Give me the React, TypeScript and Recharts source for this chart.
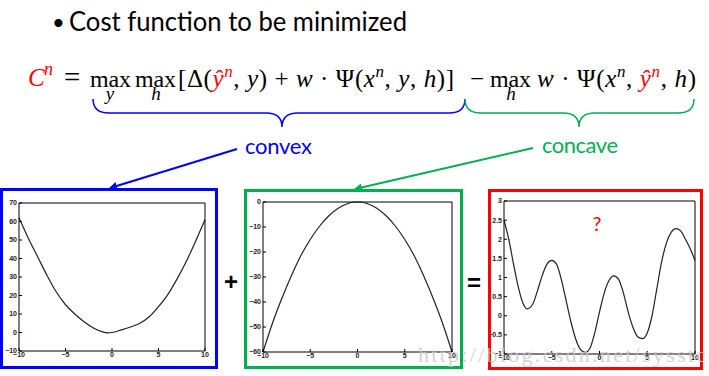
import React from "react";
import { LineChart, Line, XAxis, YAxis } from "recharts";

// x ticks shared by the three small plots
const xTicks = [-10, -5, 0, 5, 10];

// convex part
const convexX = [-10, -9, -8, -7, -6, -5, -4, -3, -2, -1, -0.5, 0, 1, 2, 3, 4, 5, 6, 7, 8, 9, 10];
const convexY = [62, 51, 41, 31, 22, 15, 10, 5.8, 2.4, 0.3, -0.2, 0, 1.4, 3, 5, 8.5, 14, 20.5, 29, 38.5, 49.5, 61];
const convexTicks = [-10, 0, 10, 20, 30, 40, 50, 60, 70];

// concave part
const concaveX = [-10, -9, -8, -7, -6, -5, -4, -3, -2, -1, -0.5, 0, 0.5, 1, 2, 3, 4, 5, 6, 7, 8, 9, 10];
const concaveY = [-60, -48.5, -38.5, -29.5, -21.5, -15, -9.6, -5.4, -2.4, -0.6, -0.1, 0, -0.1, -0.6, -2.4, -5.4, -9.6, -15, -21.5, -29.5, -38.5, -48.5, -60];
const concaveTicks = [-60, -50, -40, -30, -20, -10, 0];

// sum of both
const sumX = [-10, -9.5, -9, -8.5, -8, -7.6, -7, -6.5, -6, -5.5, -5, -4.5, -4, -3.5, -3, -2.5, -2, -1.5, -1, -0.5, 0, 0.5, 1, 1.5, 2, 2.5, 3, 3.5, 4, 4.5, 5, 5.5, 6, 6.5, 7, 7.5, 8, 8.5, 9, 9.5, 10];
const sumY = [2.5, 2.0, 1.35, 0.75, 0.32, 0.18, 0.3, 0.65, 1.05, 1.35, 1.45, 1.35, 0.95, 0.4, -0.15, -0.6, -0.88, -0.96, -0.85, -0.45, 0.1, 0.6, 0.92, 1.04, 0.95, 0.6, 0.1, -0.3, -0.55, -0.6, -0.45, 0, 0.7, 1.4, 1.9, 2.18, 2.28, 2.22, 2.0, 1.75, 1.45];
const sumTicks = [-1, -0.5, 0, 0.5, 1, 1.5, 2, 2.5, 3];

const zip = (xs: number[], ys: number[]) => xs.map((x, i) => ({ x, y: ys[i] }));

const tickStyle = { fontSize: 7, fill: "#222", fontFamily: "Liberation Sans", fontWeight: "bold" as const };
const fmt = (v: number) => String(v).replace("-", "\u2212");

interface PlotProps {
    data: { x: number; y: number }[];
    yTicks: number[];
    left: number;
    top: number;
    width: number;
    height: number;
    margin: { top: number; right: number; bottom: number; left: number };
    yWidth: number;
    xHeight: number;
}

// small matlab-like plot: boxed axes, ticks pointing inwards
const MiniPlot = ({ data, yTicks, left, top, width, height, margin, yWidth, xHeight }: PlotProps) => {
    const yDomain = [yTicks[0], yTicks[yTicks.length - 1]];
    return (
        <div style={{ position: "absolute", left, top, width, height }}>
            <LineChart width={width} height={height} data={data} margin={margin}>
                <XAxis
                    xAxisId="b"
                    dataKey="x"
                    type="number"
                    domain={[-10, 10]}
                    ticks={xTicks}
                    height={xHeight}
                    stroke="#000"
                    tickSize={-3}
                    tickMargin={4}
                    tick={tickStyle}
                    tickFormatter={fmt}
                />
                <XAxis
                    xAxisId="t"
                    dataKey="x"
                    type="number"
                    orientation="top"
                    domain={[-10, 10]}
                    ticks={xTicks}
                    height={1}
                    stroke="#000"
                    tickSize={-3}
                    tick={false}
                />
                <YAxis
                    yAxisId="l"
                    type="number"
                    domain={yDomain}
                    ticks={yTicks}
                    width={yWidth}
                    stroke="#000"
                    tickSize={-3}
                    tickMargin={5}
                    tick={tickStyle}
                    tickFormatter={fmt}
                    interval={0}
                />
                <YAxis
                    yAxisId="r"
                    type="number"
                    orientation="right"
                    domain={yDomain}
                    ticks={yTicks}
                    width={1}
                    stroke="#000"
                    tickSize={-3}
                    tick={false}
                />
                <Line
                    xAxisId="b"
                    yAxisId="l"
                    type="monotone"
                    dataKey="y"
                    stroke="#222"
                    strokeWidth={1.2}
                    dot={false}
                    isAnimationActive={false}
                />
            </LineChart>
        </div>
    );
};

const serif = "Liberation Serif";
const sans = "Lato";

export default function App() {
    return (
        <div style={{ position: "fixed", left: 0, top: 0, width: 709, height: 376, background: "#fff", overflow: "hidden" }}>
            <MiniPlot
                data={zip(convexX, convexY)}
                yTicks={convexTicks}
                left={0}
                top={188}
                width={218}
                height={180}
                margin={{ top: 14, right: 12, bottom: 0, left: 0 }}
                yWidth={19}
                xHeight={17}
            />
            <MiniPlot
                data={zip(concaveX, concaveY)}
                yTicks={concaveTicks}
                left={244}
                top={189}
                width={219}
                height={180}
                margin={{ top: 12, right: 10, bottom: 0, left: 0 }}
                yWidth={19}
                xHeight={17}
            />
            <MiniPlot
                data={zip(sumX, sumY)}
                yTicks={sumTicks}
                left={489}
                top={189}
                width={214}
                height={181}
                margin={{ top: 11, right: 7, bottom: 0, left: 0 }}
                yWidth={15}
                xHeight={16}
            />
            <svg width={709} height={376} style={{ position: "absolute", left: 0, top: 0, pointerEvents: "none" }}>
                <defs>
                    <marker id="ab" markerWidth="8" markerHeight="8" refX="7" refY="4" orient="auto" markerUnits="userSpaceOnUse">
                        <path d="M0,0 L8,4 L0,8 Z" fill="#0000ff" />
                    </marker>
                    <marker id="ag" markerWidth="8" markerHeight="8" refX="7" refY="4" orient="auto" markerUnits="userSpaceOnUse">
                        <path d="M0,0 L8,4 L0,8 Z" fill="#00b050" />
                    </marker>
                </defs>

                {/* title */}
                <text x={52} y={30} fontFamily={sans} fontSize={22} fill="#000">•</text>
                <text x={69} y={31} fontFamily={sans} fontSize={26} fill="#000" textLength={338} lengthAdjust="spacingAndGlyphs">
                    Cost function to be minimized
                </text>

                {/* formula */}
                <g fontFamily={serif} fontSize={25} fill="#000">
                    <text x={28} y={86} fill="#ff0000" fontStyle="italic">C</text>
                    <text x={44} y={75} fill="#ff0000" fontStyle="italic" fontSize={18}>n</text>
                    <text x={64} y={87} fontSize={29}>=</text>
                    <text x={90} y={87} fontSize={24} textLength={41}>max</text>
                    <text x={110} y={100} fontStyle="italic" fontSize={19} textAnchor="middle">y</text>
                    <text x={135} y={87} fontSize={24} textLength={41}>max</text>
                    <text x={156} y={100} fontStyle="italic" fontSize={19} textAnchor="middle">h</text>
                    <text x={178} y={87} textLength={276} lengthAdjust="spacing">
                        [Δ(<tspan fill="#ff0000" fontStyle="italic">ŷ</tspan>
                        <tspan fill="#ff0000" fontStyle="italic" fontSize={17} dy={-10}>n</tspan>
                        <tspan dy={10}>, </tspan>
                        <tspan fontStyle="italic">y</tspan>) + <tspan fontStyle="italic">w</tspan> · Ψ(<tspan fontStyle="italic">x</tspan>
                        <tspan fontStyle="italic" fontSize={17} dy={-10}>n</tspan>
                        <tspan dy={10}>, </tspan>
                        <tspan fontStyle="italic">y</tspan>, <tspan fontStyle="italic">h</tspan>)]
                    </text>
                    <text x={470} y={87}>−</text>
                    <text x={490} y={87} fontSize={24} textLength={41}>max</text>
                    <text x={511} y={100} fontStyle="italic" fontSize={19} textAnchor="middle">h</text>
                    <text x={537} y={87} textLength={159} lengthAdjust="spacing">
                        <tspan fontStyle="italic">w</tspan> · Ψ(<tspan fontStyle="italic">x</tspan>
                        <tspan fontStyle="italic" fontSize={17} dy={-10}>n</tspan>
                        <tspan dy={10}>, </tspan>
                        <tspan fill="#ff0000" fontStyle="italic">ŷ</tspan>
                        <tspan fill="#ff0000" fontStyle="italic" fontSize={17} dy={-10}>n</tspan>
                        <tspan dy={10}>, </tspan>
                        <tspan fontStyle="italic">h</tspan>)
                    </text>
                </g>

                {/* braces */}
                <path d="M93,99 Q93,113 109,113 L266,113 Q282,113 282,127 Q282,113 298,113 L449,113 Q465,113 465,99"
                    fill="none" stroke="#0000ff" strokeWidth={1.5} />
                <path d="M465,99 Q465,113 481,113 L563,113 Q579,113 579,127 Q579,113 595,113 L678,113 Q694,113 694,99"
                    fill="none" stroke="#00b050" strokeWidth={1.5} />

                {/* labels and arrows */}
                <text x={245} y={154} fontFamily={sans} fontSize={22} fill="#0000ff" textLength={67}>convex</text>
                <text x={542} y={153} fontFamily={sans} fontSize={22} fill="#00b050" textLength={76}>concave</text>
                <line x1={237} y1={149} x2={110} y2={188} stroke="#0000ff" strokeWidth={2} markerEnd="url(#ab)" />
                <line x1={533} y1={148} x2={355} y2={189} stroke="#00b050" strokeWidth={2} markerEnd="url(#ag)" />

                {/* frames */}
                <rect x={1.5} y={189.5} width={215} height={178} fill="none" stroke="#0000ff" strokeWidth={3} />
                <rect x={245.5} y={190.5} width={216} height={177} fill="none" stroke="#00b050" strokeWidth={3} />
                <rect x={489.5} y={190.5} width={212} height={178} fill="none" stroke="#ff0000" strokeWidth={3} />

                {/* operators */}
                <text x={231} y={290} fontFamily="Liberation Sans" fontSize={24} fontWeight="bold" textAnchor="middle">+</text>
                <text x={474} y={291} fontFamily="Liberation Sans" fontSize={24} fontWeight="bold" textAnchor="middle">=</text>
                <text x={597} y={231} fontFamily={sans} fontSize={20} fill="#ff0000" textAnchor="middle">?</text>

                {/* watermark */}
                <text x={418} y={362} fontFamily={serif} fontSize={22} fill="#c8c8c8" fillOpacity={0.8} textLength={288}>
                    http://blog.csdn.net/sysstc
                </text>
            </svg>
        </div>
    );
}
